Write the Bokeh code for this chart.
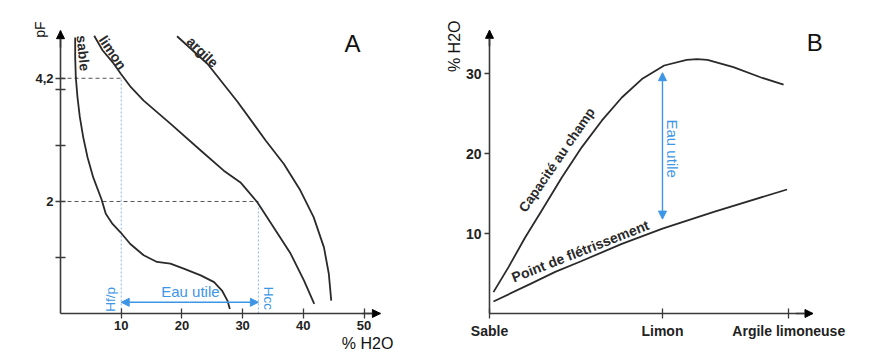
from bokeh.plotting import figure
from bokeh.layouts import row
from bokeh.models import Arrow, NormalHead, Label
from bokeh.embed import file_html
from bokeh.resources import INLINE

FONT = "Liberation Sans"
INK = "#2a2a2a"
AXIS = "#3a3a3a"
BLUE = "#3d95e6"
BLUE_DOT = "#86b9ea"

# ---------------- Panel A data: water retention curves (pF vs % H2O) ----------------
sable_x = [2.42, 2.42, 2.52, 2.80, 3.18, 3.74, 4.45, 5.39, 6.75, 7.46, 8.57, 9.88, 11.5, 13.7,
           15.9, 18.1, 20.3, 23.1, 25.3, 26.6, 27.5, 27.9]
sable_pf = [4.93, 4.58, 4.22, 3.86, 3.51, 3.15, 2.79, 2.43, 2.04, 1.78, 1.60, 1.45, 1.24, 1.04,
            0.92, 0.89, 0.80, 0.68, 0.56, 0.41, 0.23, 0.08]
limon_x = [5.55, 6.92, 8.57, 9.93, 11.6, 13.7, 18.1, 23.1, 26.9, 29.65, 32.4, 35.1, 37.9, 40.1, 41.8]
limon_pf = [4.96, 4.70, 4.49, 4.28, 4.04, 3.80, 3.39, 2.91, 2.55, 2.34, 1.99, 1.54, 1.07, 0.59, 0.17]
argile_x = [19.2, 24.2, 29.1, 33.8, 36.8, 39.5, 41.7, 43.4, 44.2, 44.6]
argile_pf = [4.95, 4.46, 3.79, 3.09, 2.67, 2.20, 1.72, 1.18, 0.71, 0.23]
a_xticks = [10, 20, 30, 40, 50]
a_yticks = [1, 2, 3, 4, 4.2]
a_ylabels = {1: "", 2: "2", 3: "", 4: "", 4.2: "4,2"}
h_fp = 10.0     # humidité au point de flétrissement
h_cc = 32.6     # humidité à la capacité au champ
pf_fp = 4.2
pf_cc = 2.0
eau_pf = 0.2

# ---------------- Panel B data ----------------
b_cats = ["Sable", "Limon", "Argile limoneuse"]
b_cat_x = [0, 10, 17.3]
cc_x = [0.23, 1.10, 2.06, 3.03, 4.18, 5.34, 6.49, 7.65, 8.81, 10.1, 11.4, 12.0, 12.6, 14.1, 15.7, 17.0]
cc_y = [2.67, 5.8, 9.5, 12.9, 17.0, 20.8, 24.1, 27.0, 29.3, 31.0, 31.7, 31.8, 31.7, 30.8, 29.5, 28.6]
pfl_x = [0.23, 2.37, 3.8, 5.26, 7.65, 10.0, 12.97, 17.2]
pfl_y = [1.5, 3.7, 5.2, 6.5, 8.7, 10.6, 12.7, 15.5]
b_yticks = [10, 20, 30]
eau_b_low = 11.8
eau_b_high = 30.1


def style_axes(p, xb, yb, size):
    p.grid.visible = False
    p.outline_line_color = None
    p.background_fill_color = "white"
    p.border_fill_color = "white"
    p.xaxis.fixed_location = 0
    p.yaxis.fixed_location = 0
    p.xaxis.bounds = xb
    p.yaxis.bounds = yb
    for ax in (p.xaxis[0], p.yaxis[0]):
        ax.axis_line_color = AXIS
        ax.axis_line_width = 1.6
        ax.major_tick_line_color = AXIS
        ax.major_tick_line_width = 1.3
        ax.minor_tick_line_color = None
        ax.major_label_text_font = FONT
        ax.major_label_text_font_size = size
        ax.major_label_text_font_style = "bold"
        ax.major_label_text_color = "#222222"


def lab(p, x, y, text, size="14px", angle=0, color=INK, style="bold", align="center"):
    p.add_layout(Label(x=x, y=y, text=text, angle=angle, angle_units="deg",
                       text_font=FONT, text_font_size=size, text_font_style=style,
                       text_color=color, text_align=align, text_baseline="middle"))


def head(color):
    return NormalHead(size=8, fill_color=color, line_color=color)


# ================= Panel A =================
A_XMAX, A_YMAX = 52.7, 5.05
pA = figure(width=440, height=357, x_range=(-9.885, 62.6), y_range=(-0.786, 5.589),
            output_backend="svg", toolbar_location=None,
            min_border_left=0, min_border_right=0, min_border_top=0, min_border_bottom=0)
style_axes(pA, (0, A_XMAX), (0, A_YMAX), "13px")
pA.xaxis.ticker = a_xticks
pA.xaxis.major_tick_in = 5
pA.xaxis.major_tick_out = 5
pA.xaxis.major_label_standoff = 3
pA.yaxis.ticker = a_yticks
pA.yaxis.major_label_overrides = a_ylabels
pA.yaxis.major_tick_in = 5
pA.yaxis.major_tick_out = 5
pA.yaxis.major_label_standoff = 2

# reference lines
pA.line([0, h_fp], [pf_fp, pf_fp], line_color="#555555", line_width=1, line_dash="4 3")
pA.line([0, h_cc], [pf_cc, pf_cc], line_color="#555555", line_width=1, line_dash="4 3")
pA.line([h_fp, h_fp], [0, pf_fp], line_color=BLUE_DOT, line_width=1, line_dash="2 2")
pA.line([h_cc, h_cc], [0, pf_cc], line_color=BLUE_DOT, line_width=1, line_dash="2 2")

for xs, ys in ((sable_x, sable_pf), (limon_x, limon_pf), (argile_x, argile_pf)):
    pA.line(xs, ys, line_color=INK, line_width=1.8, line_join="round")

mid_a = (h_fp + h_cc) / 2
pA.add_layout(Arrow(x_start=mid_a, y_start=eau_pf, x_end=h_fp, y_end=eau_pf,
                    line_color=BLUE, line_width=1.4, end=head(BLUE)))
pA.add_layout(Arrow(x_start=mid_a, y_start=eau_pf, x_end=h_cc, y_end=eau_pf,
                    line_color=BLUE, line_width=1.4, end=head(BLUE)))
# axis arrowheads
pA.add_layout(Arrow(x_start=0, y_start=A_YMAX - 0.3, x_end=0, y_end=A_YMAX,
                    line_color=AXIS, line_width=1.6, end=head("black")))
pA.add_layout(Arrow(x_start=A_XMAX - 3, y_start=0, x_end=A_XMAX, y_end=0,
                    line_color=AXIS, line_width=1.6, end=head("black")))

lab(pA, 3.75, 4.65, "sable", angle=-84)
lab(pA, 8.6, 4.66, "limon", angle=-56)
lab(pA, 23.4, 4.67, "argile", angle=-44)
lab(pA, 21.4, 0.40, "Eau utile", size="15px", color=BLUE, style="normal")
lab(pA, 8.2, 0.25, "Hf/p", size="13.5px", angle=90, color=BLUE, style="normal")
lab(pA, 34.3, 0.27, "Hcc", size="13.5px", angle=-90, color=BLUE, style="normal")
lab(pA, 48.1, 4.82, "A", size="24px", color="#111111", style="normal")
lab(pA, -3.3, 5.07, "pF", size="14px", angle=90, color="#111111", style="normal")
lab(pA, 50.6, -0.54, "% H2O", size="16px", color="#111111", style="normal")

# ================= Panel B =================
B_XMAX, B_YMAX = 18.7, 35.4
pB = figure(width=455, height=357, x_range=(-2.832, 23.47), y_range=(-5.5, 39.125),
            output_backend="svg", toolbar_location=None,
            min_border_left=0, min_border_right=0, min_border_top=0, min_border_bottom=0)
style_axes(pB, (0, B_XMAX), (0, B_YMAX), "14px")
pB.xaxis.ticker = b_cat_x
pB.xaxis.major_label_overrides = {x: c for x, c in zip(b_cat_x, b_cats)}
pB.xaxis.major_tick_in = 5
pB.xaxis.major_tick_out = 5
pB.xaxis.major_label_standoff = 4
pB.yaxis.ticker = b_yticks
pB.yaxis.major_tick_in = 0
pB.yaxis.major_tick_out = 5
pB.yaxis.major_label_standoff = 3

pB.line(cc_x, cc_y, line_color=INK, line_width=1.8, line_join="round")
pB.line(pfl_x, pfl_y, line_color=INK, line_width=1.8, line_join="round")

mid_b = (eau_b_low + eau_b_high) / 2
pB.add_layout(Arrow(x_start=b_cat_x[1], y_start=mid_b, x_end=b_cat_x[1], y_end=eau_b_high,
                    line_color=BLUE, line_width=1.4, end=head(BLUE)))
pB.add_layout(Arrow(x_start=b_cat_x[1], y_start=mid_b, x_end=b_cat_x[1], y_end=eau_b_low,
                    line_color=BLUE, line_width=1.4, end=head(BLUE)))
pB.add_layout(Arrow(x_start=0, y_start=B_YMAX - 2, x_end=0, y_end=B_YMAX,
                    line_color=AXIS, line_width=1.6, end=head("black")))
pB.add_layout(Arrow(x_start=B_XMAX - 1, y_start=0, x_end=B_XMAX, y_end=0,
                    line_color=AXIS, line_width=1.6, end=head("black")))

lab(pB, 3.9, 19.2, "Capacité au champ", size="13.5px", angle=55.5)
lab(pB, 5.25, 7.8, "Point de flétrissement", size="14px", angle=21.5)
lab(pB, 10.6, 20.6, "Eau utile", size="15px", angle=-90, color=BLUE, style="normal")
lab(pB, 18.8, 33.9, "B", size="24px", color="#111111", style="normal")
lab(pB, -2.0, 33.4, "% H2O", size="16px", angle=90, color="#111111", style="normal")

layout = row(pA, pB)
open("out.html", "w").write(file_html(layout, INLINE))
